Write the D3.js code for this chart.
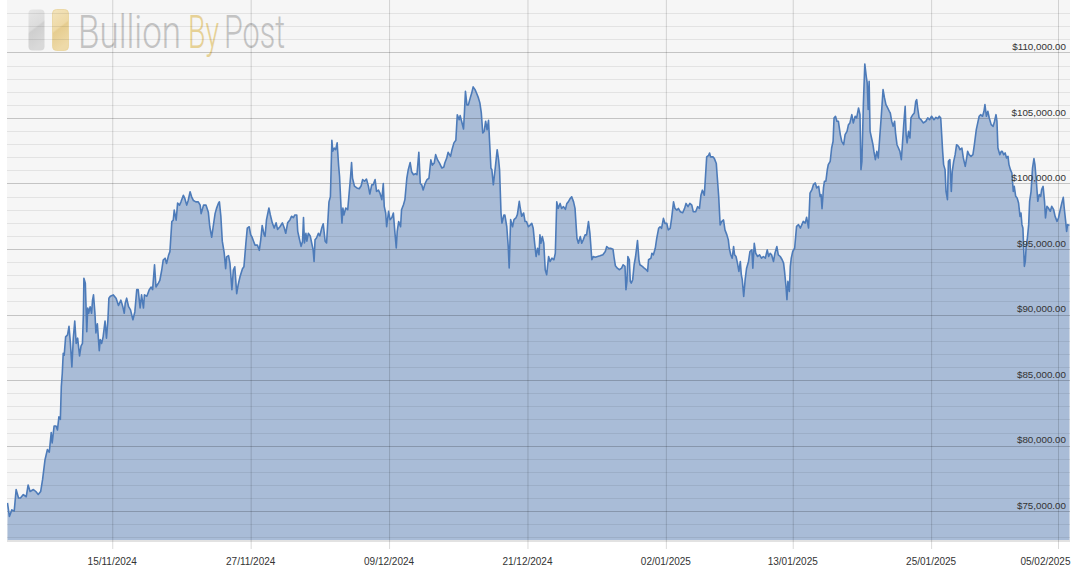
<!DOCTYPE html>
<html><head><meta charset="utf-8">
<script src="https://cdn.jsdelivr.net/npm/d3@7"></script>
<style>html,body{margin:0;padding:0;background:#fff;} svg{display:block}</style>
</head><body><svg id="c" width="1081" height="586"></svg>
<script>
// ---- data ----
const seriesStart = "2024-11-05T22:00:00Z";
const seriesEnd = "2025-02-06T02:00:00Z";
// hours since seriesStart
const hoursFromStart = [
1,5,10,15,19,24,28,34,40,44, 48,55,60,65,70,74,79,84,88,92, 94,98,102,105,108,111,113,115,117,119,
122,126,129,132,135,138,141,144,147,151, 154,157,159,160,163,166,168,170,173,176, 178,180,183,185,188,192,194,197,200,204,
207,210,212,215,221,227,232,237,241,244, 246,249,253,257,262,266,270,273,277,280, 284,286,291,296,300,303,307,310,315,318,
322,325,329,332,336,339,343,346,348,352, 355,359,362,367,370,374,377,381,384,388, 393,398,402,404,409,414,419,422,426,429,
433,436,440,442,445,448,452,455,457,461, 464,468,471,474,478,481,485,490,493,497, 500,504,507,510,513,516,521,525,528,531,
535,
537,540,545,548,552,556,560,563,568,573, 577,580,584,589,592,596,599,603,605,608, 612,615,617,619,622,624,627,631,634,637,
639,641,644,648,651,655,658,662,665,667, 670,673,676,678,681,684,687,690,692,695, 697,699,701,705,709,712,715,717,719,723,
728,733,737,740,744,748,752,755,759,762, 766,769,773,776,780,783,785,788,790,794, 797,801,804,807,810,812,815,819,821,825,
828,832,835,839,842,846,850,853,857,860, 863,866,870,874,878,882,885,889,892,896, 900,905,909,911,915,918,923,926,930,934,
937,941,943,946,950,952,954,957,960,964, 967,970,974,977,981,984,987,990,993,996, 999,1002,1004,1007,1009,1012,1016,1020,1023,1025,
1028,1030,1034,1036,1040,1043,1045,1048,1052,1055, 1059,1062,1066,1068,1071,1075,1078,1081,1085,
1089,1092,1095,1098,1101,1104,1107,1109,1111,1114, 1117,1120,1123,1127,1130,1134,1138,1141,1144,1147, 1151,1154,1158,1162,1165,1168,1172,1175,1179,1182,
1186,1189,1193,1196,1199,1203,1206,1210,1213,1217, 1220,1224,1229,1234,1240,1245,1248,1252,1256,1261, 1263,1266,1270,1274,1279,1282,1286,1288,1290,1292,
1295,1297,1299,1302,1305,1308,1312,1315,1317,1322, 1326,1330,1333,1335,1340,1342,1345,1349,1352,1356, 1359,1362,1366,1369,1373,1376,1380,1383,1387,1390,
1394,1397,1401,1406,1410,1413,1417,1421,1425,1428, 1433,1437,1441,1444,1447,1451,1453,1456,1460,1462, 1464,1469,1472,1476,1478,1481,1484,1487,1491,1494,
1498,1501,1503,1506,1509,1512,1514,1517,1520,1523, 1526,1528,1530,1533,1536,1539,1543,1546,1550,1552, 1555,1558,1562,1566,1570,1574,1578,1582,1585,1588,
1591,1595,1598,1602,1605,1609,1613,1616,1618,1621, 1623,1625,1628,1630,1632,1635,1639,
1643,1647,1651,1654,1657,1661,1664,1668,1671,1675, 1678,1682,1685,1689,1692,1694,1696,1699,1701,1704, 1707,1709,1713,1716,1719,1721,1724,1727,1730,1734,
1737,1741,1744,1748,1751,1754,1758,1761,1765,1768, 1772,1775,1777,1779,1782,1785,1788,1790,1792,1794, 1796,1799,1802,1804,1807,1810,1813,1816,1819,1823,
1826,1829,1831,1836,1838,1841,1844,1847,1849,1852, 1855,1858,1861,1863,1866,1869,1871,1873,1876,1879, 1881,1885,1888,1891,1893,1895,1898,1902,1907,1912,
1916,1920,1924,1929,1933,1937,1940,1943,1945,1947, 1949,1952,1954,1957,1959,1962,1965,1967,1970,1973, 1976,1980,1983,1987,1990,1994,1997,1999,2002,2006,
2010,2013,2017,2020,2023,2026,2030,2033,2035,2038, 2041,2044,2048,2052,2055,2058,2060,2062,2066,2069, 2071,2074,2077,2080,2083,2085,2088,2091,2094,2096,
2099,2102,2105,2108,2110,2112,2114,2117,2119,2121, 2123,2126,2128,2131,2134,2137,2139,2142,2145,2148, 2151,2153,2156,2159,2161,2164,2167,2171,2174,2178,
2181,2185,2188,2191,2195,2198,2200,2203,2205,2207, 2211
];
// BTC price in thousands of USD
const priceThousandsUSD = [
75.63,74.6,75.1,75.0,76.65,76.0,76.0,76.27,76.1,77.0, 76.5,76.65,76.5,76.27,76.5,77.4,78.9,79.7,79.5,81.0, 80.2,81.5,81.5,81.2,82.2,82.0,84.5,85.5,87.05,86.9,
88.3,88.45,89.1,87.8,86.0,88.2,89.5,87.8,88.2,86.85, 87.6,87.8,90.1,92.77,92.4,88.7,90.5,90.1,90.6,90.1, 91.1,91.5,90.1,88.6,89.3,87.25,88.1,87.8,88.3,89.5,
88.2,89.6,91.25,91.4,91.5,91.25,90.7,91.1,90.6,90.1, 90.86,91.25,90.6,90.36,89.6,90.2,91.9,91.9,90.5,91.5, 90.5,91.5,91.4,91.9,92.1,91.9,93.8,92.1,92.4,92.6,
93.4,94.16,94.3,93.9,94.5,94.8,97.1,97.2,97.97,97.2, 98.5,98.35,98.6,99.1,98.86,98.35,98.7,99.37,99.0,98.7, 98.6,98.6,98.35,97.7,98.35,98.35,97.8,96.7,95.9,96.7,
97.7,98.1,98.5,98.6,97.5,95.6,94.7,93.5,94.4,94.5, 93.9,91.9,93.4,93.65,91.6,92.26,92.9,93.5,93.65,95.4, 96.6,96.7,96.1,95.9,95.6,95.3,95.3,94.9,95.7,96.8,
96.1,
95.97,97.24,98.13,97.6,97.0,96.6,97.0,96.5,96.7,97.0, 96.6,96.2,97.0,97.24,97.5,97.4,97.6,97.6,96.35,95.84, 95.2,95.6,97.4,95.46,96.2,95.6,96.2,96.0,95.46,94.95,
94.06,95.7,95.84,96.2,96.0,96.6,96.93,95.6,95.46,96.7, 98.6,99.0,103.3,102.46,102.7,102.58,103.1,101.4,100.55,98.26, 96.98,98.13,97.6,98.13,98.0,99.27,100.55,101.6,100.4,99.8,
99.66,99.6,99.83,100.3,100.17,100.34,99.8,99.2,99.9,99.9, 100.3,99.4,99.5,99.27,98.77,100.0,98.26,97.75,96.7,97.88, 97.24,97.4,97.75,96.35,95.08,96.35,97.1,96.7,98.0,98.38,
98.77,100.4,101.05,101.6,100.9,100.67,100.75,100.67,102.38,100.0, 99.9,99.5,100.0,100.3,100.4,101.8,101.4,101.56,102.2,101.8, 101.56,101.18,101.26,101.56,101.95,102.38,102.07,102.58,103.1,103.3,
105.25,104.87,105.18,104.75,104.16,105.5,107.04,106.0,106.0,106.53, 106.9,107.37,107.16,106.9,106.53,106.15,105.38,103.85,103.98,104.75, 104.1,104.82,103.35,101.18,101.05,99.9,101.18,102.58,101.8,101.05,
97.75,96.98,97.6,97.6,96.7,95.2,93.55,97.24,96.7,97.24, 97.37,97.62,98.64,98.13,97.5,97.75,97.1,97.1,96.7,
96.84,96.96,96.58,95.44,94.43,95.06,94.56,96.08,95.44,95.95, 95.44,93.42,93.04,94.43,94.05,94.3,94.18,94.68,98.6,98.1, 98.48,98.1,98.23,98.03,98.48,98.6,98.86,98.99,98.6,98.1,
95.82,95.44,95.95,95.44,95.7,96.08,96.08,97.09,96.2,94.18, 94.43,94.38,94.43,94.48,94.56,94.81,95.19,95.06,95.06,94.99, 94.43,93.72,93.54,93.42,93.54,93.8,93.67,91.9,92.53,94.43,
94.18,92.53,92.4,92.66,93.8,94.43,95.65,94.18,93.8,93.67, 93.54,93.42,93.3,94.18,94.3,94.68,94.56,95.06,95.82,96.58, 96.7,96.58,97.34,96.96,96.96,96.46,96.58,97.34,98.6,98.1,
97.97,98.1,97.85,97.77,98.1,98.48,98.23,98.48,98.35,97.85, 97.85,98.23,98.1,99.11,99.49,99.11,100.25,102.03,102.15,102.33, 102.03,102.03,101.9,101.52,100.5,98.99,96.84,97.09,97.22,96.46,
96.08,95.7,95.06,94.56,94.3,95.19,94.56,94.43,93.92,93.29, 94.05,93.04,92.66,91.39,92.66,93.54,94.05,94.81,94.94,93.54, 95.44,94.68,94.43,94.56,94.3,94.43,94.3,94.94,94.43,94.68,
94.56,94.05,94.68,95.19,94.56,94.43,94.18,93.92,93.29,92.15, 91.14,92.53,91.77,93.67,94.3,94.81,95.06,
96.73,96.86,96.6,96.86,97.11,96.98,97.42,96.6,99.27,99.53, 99.91,100.04,99.66,99.78,99.02,99.15,98.08,99.66,100.17,100.17, 101.06,101.44,101.69,102.71,103.22,105.0,105.13,104.75,104.75,103.73,
103.22,102.96,103.73,103.98,104.49,104.62,105.25,104.62,105.13,105.0, 105.76,105.25,101.06,101.69,106.02,109.12,108.18,107.67,105.64,107.8, 103.98,103.47,102.96,102.45,101.82,102.45,101.95,103.47,105.0,107.16,
106.53,106.02,105.89,105.51,105.38,104.75,104.36,104.75,103.85,102.96, 102.71,102.45,101.82,102.84,104.49,105.89,103.73,103.09,103.98,103.47, 105.0,105.25,105.38,106.27,106.4,105.76,105.0,104.87,104.62,104.75,
105.0,104.87,105.13,104.87,105.05,104.95,105.13,105.0,103.73,102.45, 101.44,101.06,99.4,98.77,101.69,101.82,99.4,100.93,101.69,102.2, 102.96,102.84,102.58,102.71,101.95,101.31,101.95,102.45,102.2,102.07,
102.2,102.96,104.11,104.62,105.13,105.25,105.13,105.51,106.02,105.13, 105.51,105.0,104.49,104.36,104.75,105.25,104.75,102.71,102.2,102.45, 102.45,102.2,102.33,101.95,102.07,101.44,101.06,100.8,99.4,99.78,
99.02,98.89,98.51,97.49,97.75,96.86,96.6,93.68,94.06,95.33, 95.71,96.86,98.64,99.4,101.18,101.9,101.44,100.17,98.64,99.15, 99.02,99.53,99.78,98.64,97.37,98.26,98.13,97.88,98.26,98.0,
97.49,97.11,97.37,97.88,98.51,98.94,98.13,97.11,96.35,96.86, 96.81
];
const xTickDates = ["2024-11-15","2024-11-27","2024-12-09","2024-12-21","2025-01-02","2025-01-13","2025-01-25","2025-02-05"];
const yMajorTicks = [75000,80000,85000,90000,95000,100000,105000,110000];
const yMinorStep = 1000;
const yDomain = [72800,114000];
const logoWords = ["Bullion","By","Post"];

// ---- chart ----
const plot = {left:7, right:1070, top:0, bottom:540};
const svg = d3.select("#c");
const t0 = new Date(seriesStart);
const n = Math.min(hoursFromStart.length, priceThousandsUSD.length);
const data = d3.range(n).map(i => ({t: new Date(+t0 + hoursFromStart[i]*3600e3), v: priceThousandsUSD[i]*1000}));

const x = d3.scaleUtc().domain([t0, new Date(seriesEnd)]).range([plot.left, plot.right]);
const y = d3.scaleLinear().domain(yDomain).range([plot.bottom, plot.top]);

const defs = svg.append("defs");
defs.append("clipPath").attr("id","clip").append("rect")
  .attr("x",plot.left).attr("y",plot.top).attr("width",plot.right-plot.left).attr("height",plot.bottom-plot.top);

// background
svg.append("rect").attr("x",plot.left).attr("y",plot.top)
  .attr("width",plot.right-plot.left).attr("height",plot.bottom-plot.top).attr("fill","#f6f6f6");

// logo
const gGray = defs.append("linearGradient").attr("id","lg1").attr("x1",0).attr("y1",0).attr("x2",0.3).attr("y2",1);
[[0,"#e6e6e6"],[0.5,"#dcdcdc"],[0.55,"#cfcfcf"],[1,"#d9d9d9"]].forEach(s=>gGray.append("stop").attr("offset",s[0]).attr("stop-color",s[1]));
const gGold = defs.append("linearGradient").attr("id","lg2").attr("x1",0).attr("y1",0).attr("x2",0.3).attr("y2",1);
[[0,"#f3e4bd"],[0.5,"#eed9a6"],[0.55,"#e6cd90"],[1,"#eedaa8"]].forEach(s=>gGold.append("stop").attr("offset",s[0]).attr("stop-color",s[1]));
const logo = svg.append("g");
logo.append("rect").attr("x",28.5).attr("y",9.5).attr("width",16).attr("height",41).attr("rx",4).attr("fill","url(#lg1)");
logo.append("rect").attr("x",52.5).attr("y",9.5).attr("width",16).attr("height",41).attr("rx",4).attr("fill","url(#lg2)").attr("stroke","#e9d39b").attr("stroke-width",0.8);
// word boxes: [left, width, colour]
const wordBoxes = [[78,103,"#c3c3c3"],[188,31,"#e6d196"],[224,61,"#c3c3c3"]];
logoWords.forEach((w,i)=>{
  const [lx, lw, col] = wordBoxes[i];
  const g = logo.append("g");
  const t = g.append("text").attr("x",0).attr("y",0).text(w)
    .attr("font-family","Roboto,'Liberation Sans',sans-serif").attr("font-weight",300)
    .attr("font-size",46).attr("fill",col);
  const natural = t.node().getComputedTextLength() || lw;
  g.attr("transform",`translate(${lx},48.3) scale(${lw/natural},1)`);
});

// area + line
const area = d3.area().x(d=>x(d.t)).y0(plot.bottom).y1(d=>y(d.v));
const line = d3.line().x(d=>x(d.t)).y(d=>y(d.v));
svg.append("path").datum(data).attr("clip-path","url(#clip)").attr("d",area).attr("fill","#a9bcd7");

// gridlines (over area, translucent)
const minor = d3.range(Math.ceil(yDomain[0]/yMinorStep)*yMinorStep, yDomain[1], yMinorStep).filter(v=>!yMajorTicks.includes(v));
svg.append("g").selectAll("line").data(minor).join("line")
  .attr("x1",plot.left).attr("x2",plot.right)
  .attr("y1",d=>Math.round(y(d))+0.5).attr("y2",d=>Math.round(y(d))+0.5)
  .attr("stroke","rgba(0,0,0,0.075)");
svg.append("g").selectAll("line").data(yMajorTicks).join("line")
  .attr("x1",plot.left).attr("x2",plot.right)
  .attr("y1",d=>Math.round(y(d))+0.5).attr("y2",d=>Math.round(y(d))+0.5)
  .attr("stroke","rgba(0,0,0,0.2)");

// bottom border
svg.append("rect").attr("x",plot.left).attr("y",plot.bottom).attr("width",plot.right-plot.left).attr("height",2).attr("fill","#e2e2e2");

// x axis with vertical gridlines
const xAxis = d3.axisBottom(x)
  .tickValues(xTickDates.map(s=>new Date(s+"T00:00:00Z")))
  .tickFormat(d3.utcFormat("%d/%m/%Y"))
  .tickSizeInner(-549).tickSizeOuter(0).tickPadding(8.5);
const gx = svg.append("g").attr("transform","translate(0,549)").call(xAxis);
gx.select(".domain").remove();
gx.selectAll(".tick line").attr("stroke","rgba(0,0,0,0.15)").attr("transform","translate(0.5,0)");
gx.selectAll(".tick text").attr("font-family","'Liberation Sans',Arial,sans-serif").attr("font-size",10).attr("fill","#333");
// keep the last label inside the plot's right edge
gx.selectAll(".tick").filter((d,i,nodes)=>i===nodes.length-1).select("text")
  .attr("text-anchor","end").attr("x", function(d){ return plot.right - x(d); });

// line
svg.append("path").datum(data).attr("clip-path","url(#clip)").attr("d",line)
  .attr("fill","none").attr("stroke","#4d7bb9").attr("stroke-width",1.6).attr("stroke-linejoin","round");

// y axis labels
const yAxis = d3.axisLeft(y).tickValues(yMajorTicks).tickFormat(d3.format("$,.2f")).tickSize(0).tickPadding(0);
const gy = svg.append("g").attr("transform","translate(1066,0)").call(yAxis);
gy.select(".domain").remove();
gy.selectAll(".tick text").attr("dy","-0.3em").attr("font-family","'Liberation Sans',Arial,sans-serif").attr("font-size",9.8).attr("fill","#333");
</script>
</body></html>
